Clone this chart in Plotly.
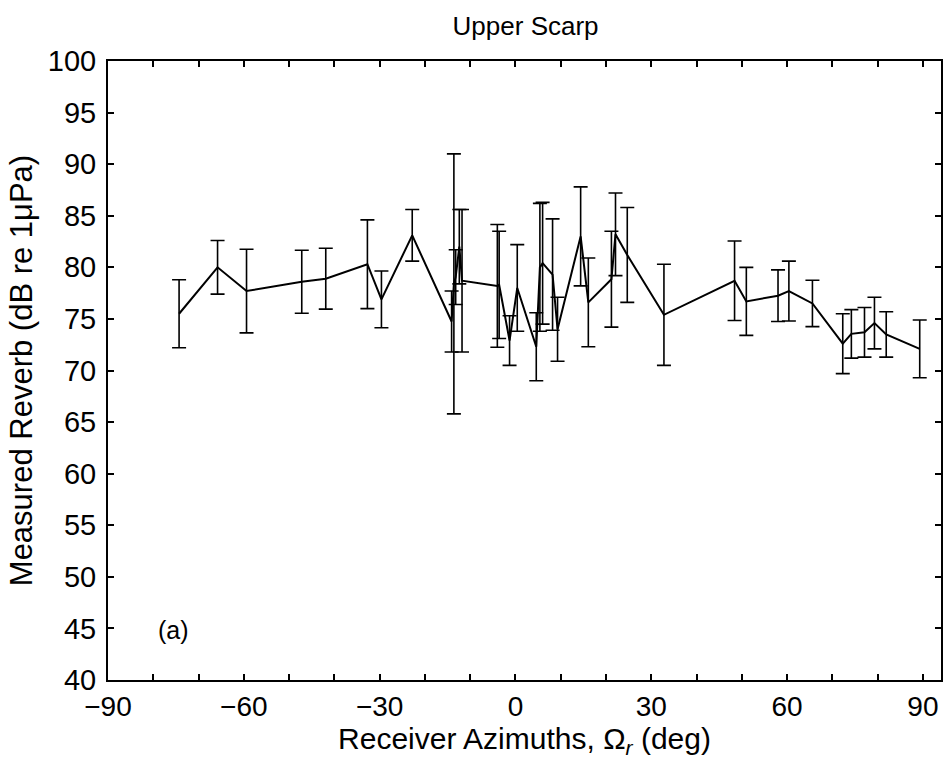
import plotly.graph_objects as go

# Data
azimuth = [-74.3, -65.8, -59.4, -47.2, -41.9, -32.7, -29.6, -22.8, -14.1, -13.6,
           -13.2, -12.4, -11.8, -4.0, -3.6, -1.3, 0.4, 4.6, 5.4, 6.0,
           8.2, 9.3, 14.4, 16.1, 21.2, 22.1, 24.7, 32.8, 48.4, 51.0,
           58.0, 60.4, 65.6, 72.3, 74.2, 77.1, 79.3, 81.9, 89.3]
reverb = [75.5, 80.0, 77.7, 78.6, 78.9, 80.3, 76.9, 83.1, 74.75, 78.4,
          79.05, 82.0, 78.7, 78.2, 78.3, 72.9, 78.0, 72.3, 80.0, 80.4,
          79.3, 74.0, 83.0, 76.6, 78.85, 83.2, 81.2, 75.4, 78.7, 76.7,
          77.25, 77.7, 76.5, 72.6, 73.55, 73.7, 74.6, 73.5, 72.1]
error = [3.3, 2.6, 4.05, 3.05, 2.95, 4.3, 2.75, 2.5, 2.95, 12.6,
         2.65, 3.6, 6.9, 5.95, 5.2, 2.4, 4.2, 3.3, 6.2, 5.9,
         5.4, 3.1, 4.8, 4.3, 4.65, 4.0, 4.6, 4.9, 3.85, 3.3,
         2.5, 2.9, 2.25, 2.9, 2.35, 2.4, 2.5, 2.2, 2.8]

x_tickvals = list(range(-90, 91, 30))
x_ticktext = [str(v).replace("-", "\u2212") for v in x_tickvals]
y_tickvals = list(range(40, 101, 5))

FONT = "Liberation Sans, Arial, Helvetica, sans-serif"

fig = go.Figure()
fig.add_trace(go.Scatter(
    x=azimuth, y=reverb, mode="lines",
    line=dict(color="black", width=2),
    error_y=dict(type="data", array=error, visible=True,
                 color="black", thickness=1.6, width=7),
    showlegend=False,
))

fig.add_annotation(x=-75.5, y=44.8, text="(a)", showarrow=False,
                   font=dict(family=FONT, size=25, color="black"))

fig.update_layout(
    width=947, height=759,
    margin=dict(l=108, r=4, t=61, b=79),
    paper_bgcolor="white", plot_bgcolor="white",
    font=dict(family=FONT, color="black", size=29),
    title=dict(text="Upper Scarp", x=0.555, xanchor="center",
               y=0.978, yanchor="top",
               font=dict(family=FONT, size=26, color="black")),
    xaxis=dict(range=[-90, 94], tickmode="array", tickvals=x_tickvals,
               ticktext=x_ticktext, ticks="inside", ticklen=6, tickwidth=1.5,
               tickcolor="black", showline=True, linecolor="black",
               linewidth=2, mirror="ticks", showgrid=False, zeroline=False,
               minor=dict(tick0=-90, dtick=10, ticks="inside", ticklen=6,
                          tickwidth=1.5, tickcolor="black", showgrid=False),
               tickfont=dict(family=FONT, size=28, color="black"),
               title=dict(text="Receiver Azimuths, \u03a9<sub><i>r</i></sub> (deg)",
                          standoff=4,
                          font=dict(family=FONT, size=30, color="black"))),
    yaxis=dict(range=[40, 100], tickmode="array", tickvals=y_tickvals,
               ticks="inside", ticklen=6, tickwidth=1.5, tickcolor="black",
               showline=True, linecolor="black", linewidth=2, mirror="ticks",
               showgrid=False, zeroline=False,
               tickfont=dict(family=FONT, size=29, color="black"),
               ticklabelstandoff=4,
               title=dict(text="Measured Reverb (dB re 1\u03bcPa)",
                          standoff=6,
                          font=dict(family=FONT, size=31, color="black"))),
)

fig.write_html("out.html")
